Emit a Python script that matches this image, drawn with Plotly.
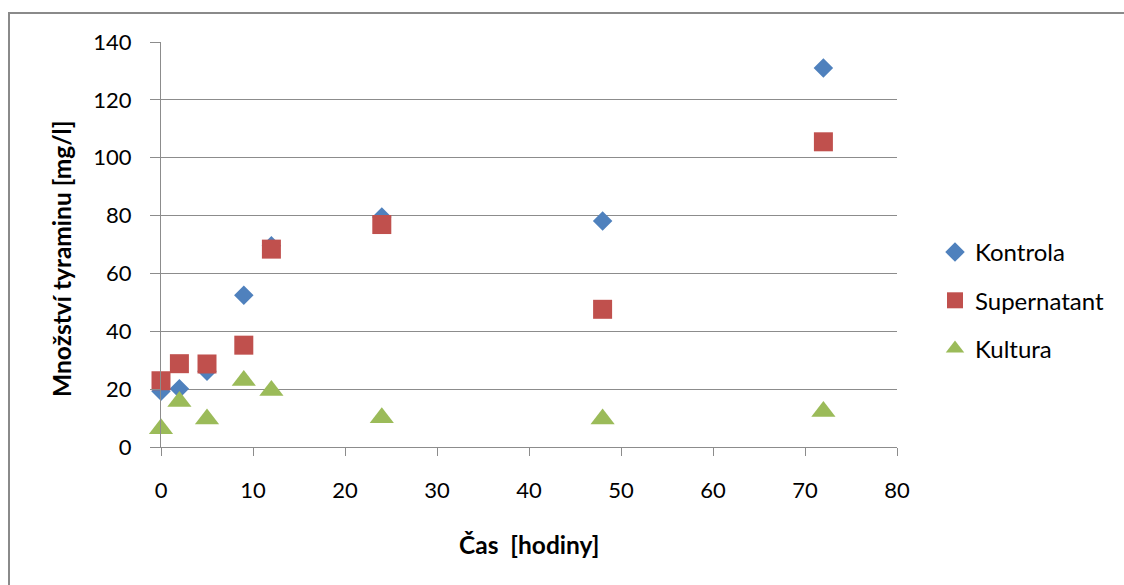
import plotly.graph_objects as go

# Sampling times [h]
cas_hodiny = [0, 2, 5, 9, 12, 24, 48, 72]

# Tyramine content [mg/l] for each series
kontrola = [19.3, 20.1, 26.2, 52.5, 69.6, 79.5, 78.1, 131.0]
supernatant = [22.9, 28.8, 28.7, 35.2, 68.4, 76.9, 47.6, 105.5]
kultura = [6.3, 15.7, 9.7, 23.0, 19.5, 10.1, 9.7, 12.3]

series_names = ["Kontrola", "Supernatant", "Kultura"]
x_ticks = [0, 10, 20, 30, 40, 50, 60, 70, 80]
y_ticks = [0, 20, 40, 60, 80, 100, 120, 140]

FONT = "Lato"
GRID = "#8c8c8c"

W, H = 1124, 585
L, R, T, B = 161, 227, 42, 138
PW, PH = W - L - R, H - T - B


def px_x(p):
    return (p - L) / PW


def px_y(p):
    return (H - B - p) / PH


fig = go.Figure()
styles = [
    (kontrola, "diamond", 15, "#4F81BD"),
    (supernatant, "square", 19, "#C0504D"),
    (kultura, "triangle-up", 21, "#9BBB59"),
]
for name, (vals, sym, size, col) in zip(series_names, styles):
    fig.add_trace(go.Scatter(
        x=cas_hodiny, y=vals, mode="markers", name=name,
        legendgroup=name,
        marker=dict(symbol=sym, size=size, color=col, line=dict(width=0)),
        cliponaxis=False,
    ))

fig.update_layout(
    width=W, height=H,
    margin=dict(l=L, r=R, t=T, b=B, autoexpand=False),
    paper_bgcolor="white", plot_bgcolor="white",
    font=dict(family=FONT, size=22, color="#000000"),
    showlegend=True,
    legend=dict(
        x=px_x(935), y=px_y(230), xanchor="left", yanchor="top",
        font=dict(family=FONT, size=24, color="#000000"),
        tracegroupgap=14, bgcolor="rgba(0,0,0,0)",
    ),
    xaxis=dict(
        range=[0, 80], tickvals=x_ticks, showgrid=False, zeroline=False,
        showline=True, linecolor=GRID, linewidth=1,
        ticks="outside", ticklen=8, tickcolor=GRID, tickwidth=1,
        ticklabelstandoff=16,
        tickfont=dict(family=FONT, size=22, color="#000000"),
    ),
    yaxis=dict(
        range=[0, 140], tickvals=y_ticks, showgrid=True, gridcolor=GRID,
        gridwidth=1, zeroline=False,
        showline=True, linecolor=GRID, linewidth=1,
        ticks="outside", ticklen=10, tickcolor=GRID, tickwidth=1,
        ticklabelstandoff=14,
        tickfont=dict(family=FONT, size=22, color="#000000"),
    ),
    shapes=[dict(
        type="rect", xref="paper", yref="paper",
        x0=px_x(9), x1=px_x(1140), y0=px_y(620), y1=px_y(13),
        line=dict(color="#8a8a8a", width=2), fillcolor="rgba(0,0,0,0)",
        layer="below",
    )],
    annotations=[
        dict(text="<b>Čas  [hodiny]</b>", xref="paper", yref="paper",
             x=px_x(529), y=px_y(544), xanchor="center", yanchor="middle",
             showarrow=False, font=dict(family=FONT, size=24.5, color="#000000")),
        dict(text="<b>Množství tyraminu [mg/l]</b>", xref="paper", yref="paper",
             x=px_x(61), y=px_y(259), xanchor="center", yanchor="middle",
             textangle=-90, showarrow=False,
             font=dict(family=FONT, size=24.5, color="#000000")),
    ],
)

fig.write_html("out.html")
